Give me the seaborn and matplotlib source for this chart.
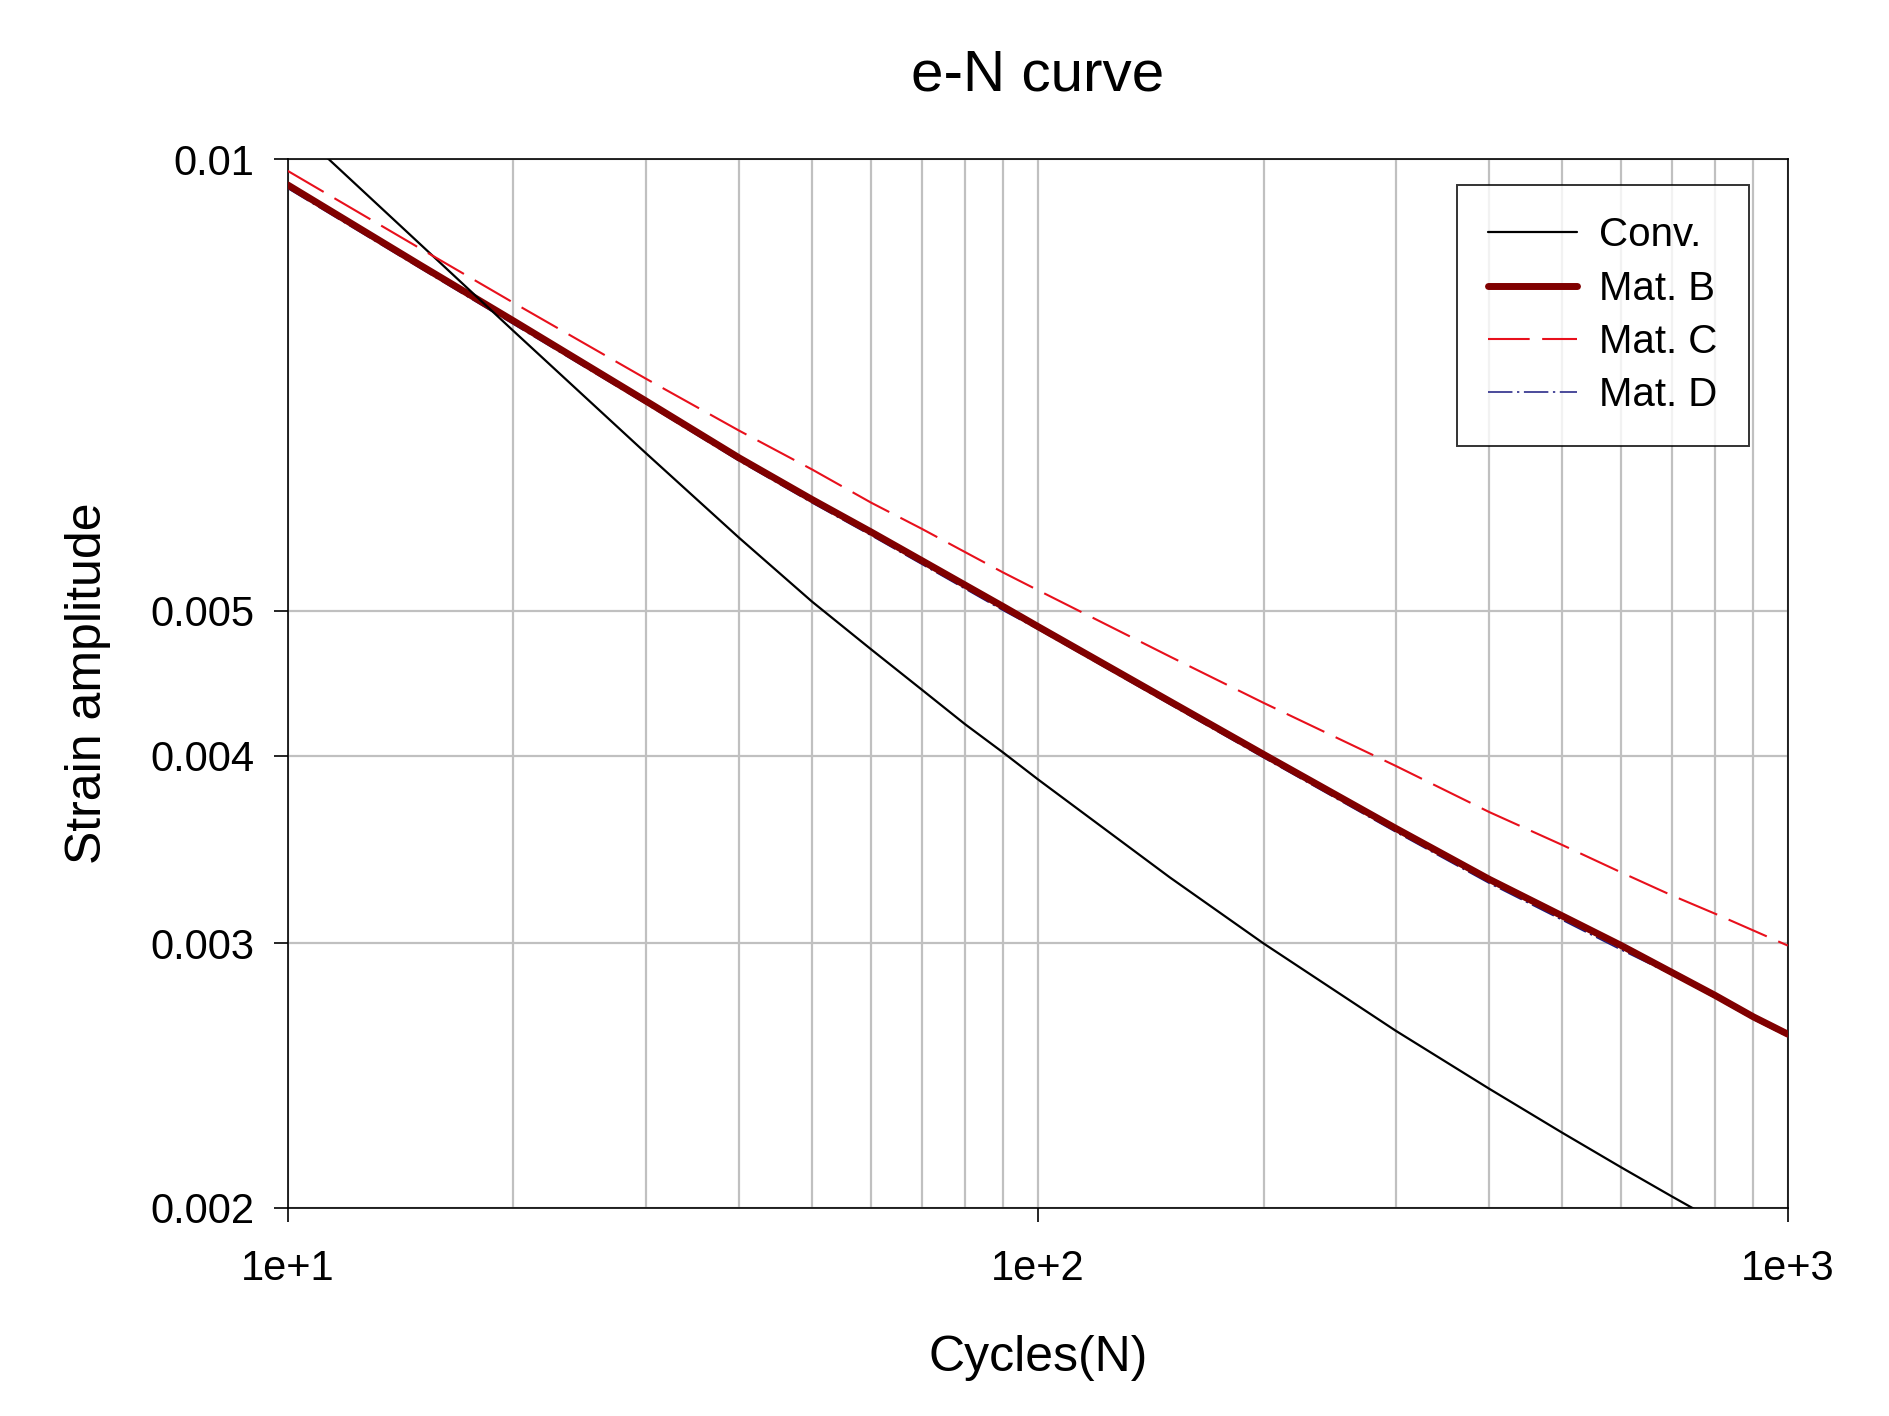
import numpy as np
import pandas as pd
import matplotlib
matplotlib.use("Agg")
import matplotlib.pyplot as plt
import seaborn as sns
from matplotlib.ticker import LogLocator, NullFormatter, FixedLocator, FixedFormatter

# ---- data ----
cycles_conv = [10, 15, 20, 30, 40, 50, 60, 70, 80, 90, 100, 150, 200, 300, 400, 500, 600, 700, 800]
strain_conv = [0.0106, 0.00878, 0.00768, 0.00637, 0.00559, 0.00507, 0.00471, 0.00443, 0.00420,
               0.00402, 0.00386, 0.00332, 0.00300, 0.002624, 0.00240, 0.002244, 0.002127, 0.002035, 0.00196]

cycles_mat = [10, 15, 20, 30, 40, 50, 60, 70, 80, 90, 100, 150, 200, 300, 400, 500, 600, 700, 800, 900, 1000]
strain_b = [0.00961, 0.00850, 0.00780, 0.00690, 0.00632, 0.00593, 0.00564, 0.00540, 0.00520, 0.00503,
            0.00488, 0.00435, 0.00401, 0.00358, 0.00331, 0.00313, 0.00299, 0.00287, 0.00277, 0.00268, 0.00261]
strain_c = [0.00982, 0.00872, 0.00802, 0.00714, 0.00659, 0.00621, 0.00590, 0.00567, 0.00547, 0.00530,
            0.00516, 0.00466, 0.00434, 0.00394, 0.00367, 0.00349, 0.003345, 0.00323, 0.00314, 0.00306, 0.00299]
strain_d = [0.00956, 0.00846, 0.00776, 0.00687, 0.00629, 0.00590, 0.00561, 0.00537, 0.00517, 0.00500,
            0.00486, 0.00433, 0.00399, 0.00356, 0.00329, 0.00311, 0.00297, 0.00286, 0.00276, 0.00267, 0.00260]

series_names = ["Conv.", "Mat. B", "Mat. C", "Mat. D"]
y_ticks = [0.002, 0.003, 0.004, 0.005, 0.01]
y_tick_labels = ["0.002", "0.003", "0.004", "0.005", "0.01"]
x_ticks = [10, 100, 1000]
x_tick_labels = ["1e+1", "1e+2", "1e+3"]

# ---- style ----
sns.set_style("white")
plt.rcParams["font.family"] = ["Liberation Sans", "DejaVu Sans"]
plt.rcParams["text.color"] = "black"
plt.rcParams["axes.labelcolor"] = "black"
plt.rcParams["xtick.color"] = "black"
plt.rcParams["ytick.color"] = "black"

fig = plt.figure(figsize=(18.89, 14.16), dpi=100)
ax = fig.add_axes([0.1523, 0.1472, 0.7941, 0.7405])
ax.set_xscale("log")
ax.set_yscale("log")

grid_color = "#c0c0c0"
dashdot = (0, (16, 3, 1.5, 3))

df_conv = pd.DataFrame({"N": cycles_conv, "e": strain_conv})
df_b = pd.DataFrame({"N": cycles_mat, "e": strain_b})
df_c = pd.DataFrame({"N": cycles_mat, "e": strain_c})
df_d = pd.DataFrame({"N": cycles_mat, "e": strain_d})

sns.lineplot(data=df_conv, x="N", y="e", ax=ax, color="black", linewidth=1.6,
             label=series_names[0], zorder=4)
sns.lineplot(data=df_d, x="N", y="e", ax=ax, color="#1a1a80", linewidth=1.1,
             linestyle=dashdot, label="_nolegend_", zorder=3)
sns.lineplot(data=df_b, x="N", y="e", ax=ax, color="#800000", linewidth=5.0,
             label=series_names[1], zorder=3.5, solid_capstyle="round")
sns.lineplot(data=df_c, x="N", y="e", ax=ax, color="#e8101c", linewidth=1.5,
             linestyle=(0, (20, 6)), label=series_names[2], zorder=4)
# legend proxy for Mat. D (drawn under Mat. B)
ax.plot([], [], color="#1a1a80", linewidth=1.1, linestyle=dashdot, label=series_names[3])

ax.set_xlim(10, 1000)
ax.set_ylim(0.002, 0.01)

ax.xaxis.set_major_locator(FixedLocator(x_ticks))
ax.xaxis.set_major_formatter(FixedFormatter(x_tick_labels))
ax.xaxis.set_minor_locator(LogLocator(base=10, subs=np.arange(2, 10)))
ax.xaxis.set_minor_formatter(NullFormatter())
ax.yaxis.set_major_locator(FixedLocator(y_ticks))
ax.yaxis.set_major_formatter(FixedFormatter(y_tick_labels))
ax.yaxis.set_minor_locator(FixedLocator([]))

ax.set_axisbelow(True)
ax.grid(True, which="both", axis="x", color=grid_color, linewidth=1.6)
ax.grid(True, which="major", axis="y", color=grid_color, linewidth=1.6)

for s in ax.spines.values():
    s.set_visible(True)
    s.set_color("black")
    s.set_linewidth(1.2)

ax.tick_params(axis="both", which="major", direction="out", length=10, width=1.2,
               color="black", labelcolor="black", labelsize=30)
ax.tick_params(axis="x", which="major", bottom=True, pad=20)
ax.tick_params(axis="y", which="major", left=True, pad=14)
ax.tick_params(axis="x", which="minor", length=0)

ax.set_xlabel("Cycles(N)", fontsize=36, labelpad=33)
ax.set_ylabel("Strain amplitude", fontsize=36, labelpad=28)
ax.set_title("e-N curve", fontsize=42, pad=49)

handles, labels = ax.get_legend_handles_labels()
order = [labels.index(n) for n in series_names]
leg = ax.legend([handles[i] for i in order], [labels[i] for i in order],
                loc="upper left", bbox_to_anchor=(0.7795, 0.9752), fontsize=29,
                frameon=True, fancybox=False, shadow=False, edgecolor="black",
                handlelength=2.2, handletextpad=0.55, borderpad=0.78, labelspacing=0.38,
                borderaxespad=0)
leg.get_frame().set_linewidth(1.4)
leg.set_zorder(10)

fig.savefig("out.png", dpi=100, facecolor="white")
